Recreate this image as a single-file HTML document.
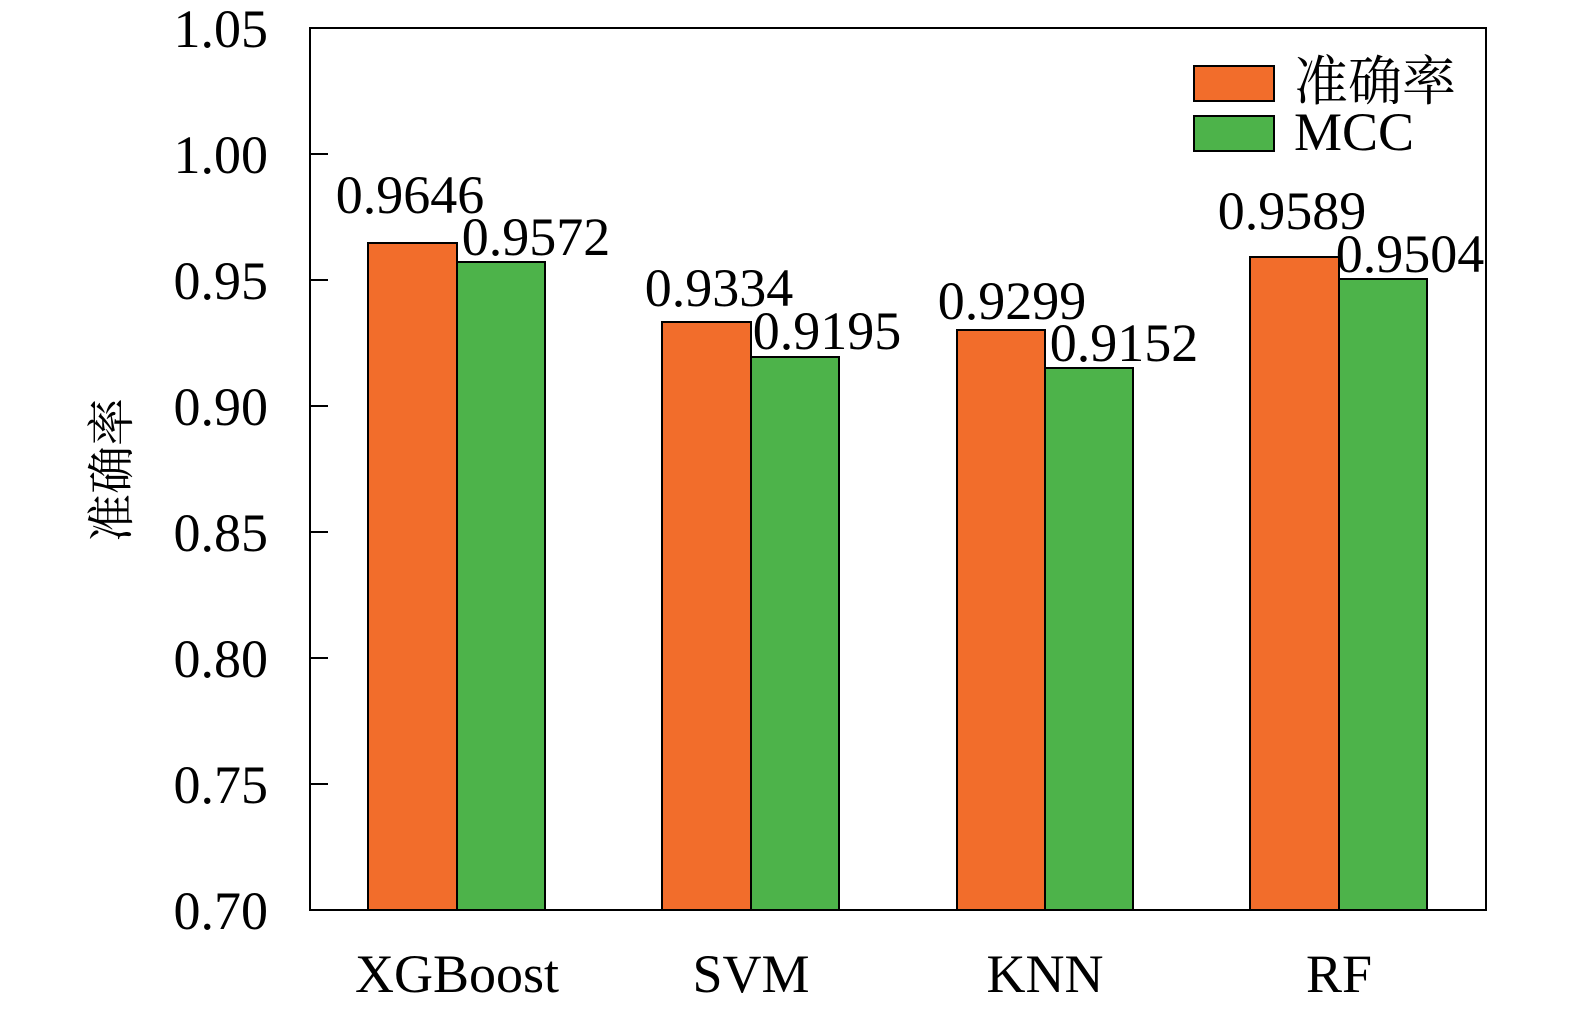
<!DOCTYPE html>
<html><head><meta charset="utf-8"><style>html,body{margin:0;padding:0;background:#fff;overflow:hidden}</style></head>
<body>
<svg width="1575" height="1011" viewBox="0 0 1575 1011" xmlns="http://www.w3.org/2000/svg" font-family="'Liberation Serif','Noto Serif CJK SC',serif">
<rect width="1575" height="1011" fill="#fff"/>
<g stroke="#000" stroke-width="2">
<rect x="368" y="243" width="89" height="667" fill="#F26D2B"/>
<rect x="457" y="262" width="88" height="648" fill="#4DB34A"/>
<rect x="662" y="322" width="89" height="588" fill="#F26D2B"/>
<rect x="751" y="357" width="88" height="553" fill="#4DB34A"/>
<rect x="957" y="330" width="88" height="580" fill="#F26D2B"/>
<rect x="1045" y="368" width="88" height="542" fill="#4DB34A"/>
<rect x="1250" y="257" width="89" height="653" fill="#F26D2B"/>
<rect x="1339" y="279" width="88" height="631" fill="#4DB34A"/>
<rect x="310" y="28" width="1176" height="882" fill="none"/>
<line x1="310" y1="154" x2="328" y2="154"/>
<line x1="310" y1="280" x2="328" y2="280"/>
<line x1="310" y1="406" x2="328" y2="406"/>
<line x1="310" y1="532" x2="328" y2="532"/>
<line x1="310" y1="658" x2="328" y2="658"/>
<line x1="310" y1="784" x2="328" y2="784"/>
<rect x="1194" y="66" width="80" height="35" fill="#F26D2B"/>
<rect x="1194" y="116" width="80" height="35" fill="#4DB34A"/>
</g>
<g font-size="54" text-anchor="end" fill="#000">
<text x="268" y="47">1.05</text>
<text x="268" y="173">1.00</text>
<text x="268" y="299">0.95</text>
<text x="268" y="425">0.90</text>
<text x="268" y="551">0.85</text>
<text x="268" y="677">0.80</text>
<text x="268" y="803">0.75</text>
<text x="268" y="929">0.70</text>
</g>
<g font-size="54" text-anchor="middle" fill="#000">
<text x="410" y="213">0.9646</text>
<text x="536" y="255">0.9572</text>
<text x="719" y="306">0.9334</text>
<text x="827" y="349">0.9195</text>
<text x="1012" y="319">0.9299</text>
<text x="1124" y="361">0.9152</text>
<text x="1292" y="229">0.9589</text>
<text x="1410" y="272">0.9504</text>
<text x="457" y="992">XGBoost</text>
<text x="751" y="992">SVM</text>
<text x="1045" y="992">KNN</text>
<text x="1339" y="992">RF</text>
</g>
<text x="1294" y="100" font-size="54">准确率</text>
<text x="1294" y="150" font-size="54">MCC</text>
<text transform="translate(128,470) rotate(-90)" font-size="48" text-anchor="middle">准确率</text>
</svg>
</body></html>
